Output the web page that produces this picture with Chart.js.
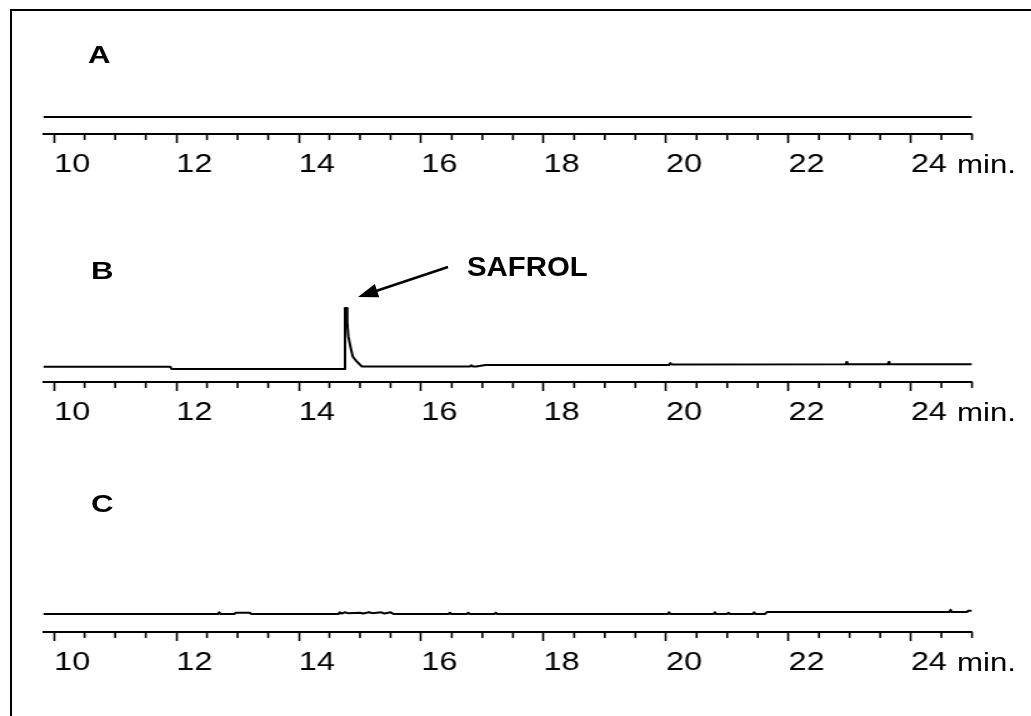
<!DOCTYPE html>
<html>
<head>
<meta charset="utf-8">
<script src="https://cdn.jsdelivr.net/npm/chart.js@4.4.1/dist/chart.umd.min.js"></script>
<style>
  body { margin: 0; background: #fff; width: 1031px; height: 716px; overflow: hidden; position: relative; }
  .frame { position: absolute; left: 10px; top: 9px; width: 1040px; height: 720px; border-left: 2px solid #000; border-top: 2px solid #000; }
  .panel { position: absolute; left: 0; width: 825px; height: 132px; transform: scaleX(1.25); transform-origin: 0 0; }
  .panel canvas { display: block; }
  svg { position: absolute; left: 0; top: 0; }
</style>
</head>
<body>
<div class="frame"></div>
<div class="panel" style="top:52px"><canvas id="chartA" width="825" height="132"></canvas></div>
<div class="panel" style="top:300px"><canvas id="chartB" width="825" height="132"></canvas></div>
<div class="panel" style="top:550px"><canvas id="chartC" width="825" height="132"></canvas></div>

<svg width="1031" height="716" font-family="Liberation Sans, Arial, sans-serif">
  <text transform="translate(88,63) scale(1.3,1)" font-size="24" font-weight="bold">A</text>
  <text transform="translate(91,279) scale(1.3,1)" font-size="24" font-weight="bold">B</text>
  <text transform="translate(91,512) scale(1.3,1)" font-size="24" font-weight="bold">C</text>
  <text transform="translate(467,276) scale(1.05,1)" font-size="28" font-weight="bold">SAFROL</text>
  <line x1="448" y1="267" x2="376" y2="291" stroke="#000" stroke-width="2.5"/>
  <polygon points="358,297 379.2,297.3 374.8,284.1" fill="#000"/>
  <text transform="translate(957,173) scale(1.2,1)" font-size="26">min.</text>
  <text transform="translate(957,421) scale(1.2,1)" font-size="26">min.</text>
  <text transform="translate(957,671) scale(1.2,1)" font-size="26">min.</text>
</svg>

<script>
// retention time axis (min)
const xMin = 9.825;
const xMax = 25;
const majorTicks = [10, 12, 14, 16, 18, 20, 22, 24];
const minorTicks = [10.5, 11, 11.5, 12.5, 13, 13.5, 14.5, 15, 15.5, 16.5, 17, 17.5,
                    18.5, 19, 19.5, 20.5, 21, 21.5, 22.5, 23, 23.5, 24.5, 25];

// A: blank
const timesA  = [9.825, 25];
const signalA = [20.7, 20.7];

// B: sample with safrol peak
const timesB  = [9.825, 11.9, 11.92, 14.74, 14.755, 14.783, 14.792, 14.809, 14.848, 14.881, 14.946, 15.028,
                 16.8, 16.82, 16.84, 16.9, 16.95, 17.05, 20.05, 20.07, 20.09,
                 22.94, 22.95, 22.96, 23.63, 23.64, 23.65, 25];
const signalB = [18.7, 18.7, 15.9, 15.9, 90.3, 90.3, 72.3, 55.6, 41.8, 31.2, 25.1, 19,
                 19, 20.5, 19, 19, 19.6, 20.7, 20.7, 23, 21.4,
                 21.6, 24.5, 21.6, 21.6, 24.5, 21.6, 21.6];

// C: second sample
const timesC  = [9.825, 12.68, 12.7, 12.72, 12.95, 12.97, 13.2, 13.22,
                 14.65, 14.67, 14.7, 14.75, 14.8, 15.0, 15.05, 15.15, 15.2, 15.35, 15.4, 15.5, 15.55,
                 16.45, 16.47, 16.49, 16.75, 16.77, 16.79, 17.2, 17.22, 17.24,
                 20.03, 20.05, 20.07, 20.78, 20.8, 20.82, 21.0, 21.02, 21.04, 21.42, 21.44, 21.46,
                 21.62, 21.65, 24.63, 24.65, 24.67, 24.92, 24.94, 25];
const signalC = [22, 22, 24, 22, 22, 23.5, 23.5, 22,
                 22, 24, 22.5, 24, 23, 23.5, 22.5, 24, 23, 24, 22.5, 24, 22,
                 22, 23.5, 22, 22, 23.5, 22, 22, 23.5, 22,
                 22, 24, 22, 22, 24, 22, 22, 23.5, 22, 22, 24, 22,
                 22, 24.4, 24.4, 27, 24.4, 24.4, 26, 26];

const minorTickPlugin = {
  id: 'minorTickPlugin',
  afterDraw(chart) {
    const xs = chart.scales.x;
    const ctx = chart.ctx;
    ctx.save();
    ctx.strokeStyle = '#000';
    ctx.lineWidth = 1.6;
    minorTicks.forEach(v => {
      const px = xs.getPixelForValue(v);
      ctx.beginPath();
      ctx.moveTo(px, xs.top);
      ctx.lineTo(px, xs.top + 6);
      ctx.stroke();
    });
    ctx.restore();
  }
};

function makeChart(id, times, signal) {
  const points = times.map((t, i) => ({x: t, y: signal[i]}));
  return new Chart(document.getElementById(id), {
    type: 'line',
    data: {
      datasets: [{
        data: points,
        borderColor: '#000',
        borderWidth: 2,
        borderJoinStyle: 'round',
        pointRadius: 0,
        tension: 0,
        fill: false
      }]
    },
    options: {
      responsive: false,
      animation: false,
      devicePixelRatio: 1,
      events: [],
      layout: {padding: {left: 34.6, right: 47.4, top: 0, bottom: 0}},
      plugins: {legend: {display: false}, tooltip: {enabled: false}},
      scales: {
        x: {
          type: 'linear',
          min: xMin,
          max: xMax,
          afterFit: s => { s.height = 50; },
          afterBuildTicks: s => { s.ticks = majorTicks.map(v => ({value: v})); },
          border: {display: true, color: '#000', width: 2},
          grid: {drawOnChartArea: false, color: '#000', tickLength: 9, tickWidth: 1.6},
          ticks: {
            align: 'start',
            padding: 6,
            color: '#000',
            maxRotation: 0,
            autoSkip: false,
            font: {family: "'Liberation Sans', Arial, sans-serif", size: 26}
          }
        },
        y: {display: false, min: 0, max: 100}
      }
    },
    plugins: [minorTickPlugin]
  });
}

makeChart('chartA', timesA, signalA);
makeChart('chartB', timesB, signalB);
makeChart('chartC', timesC, signalC);
</script>
</body>
</html>
